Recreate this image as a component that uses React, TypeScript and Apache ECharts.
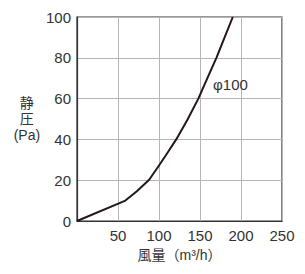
import React, { useEffect, useRef } from "react";
import * as echarts from "echarts";

const airflow = [0, 59, 73, 88, 100, 110, 121, 134.5, 148, 159, 170, 180, 190];
const pressure = [0, 10, 14.6, 20.2, 27.2, 33.2, 40, 49.5, 60, 70, 80, 90, 100];
const curveLabel = "φ100";
const xName = "風量（m³/h）";
const yName = "静\n圧\n(Pa)";

export default function App() {
  const ref = useRef<HTMLDivElement>(null);
  useEffect(() => {
    if (!ref.current) return;
    const chart = echarts.init(ref.current, undefined, { renderer: "svg" });
    const font = "'Liberation Sans', 'Noto Sans CJK JP', sans-serif";
    chart.setOption({
      animation: false,
      backgroundColor: "#fff",
      grid: {
        left: 77,
        top: 17,
        right: 23,
        bottom: 53,
        show: true,
        borderColor: "#333",
        borderWidth: 1.2,
      },
      xAxis: {
        type: "value",
        min: 0,
        max: 250,
        interval: 50,
        name: xName,
        nameLocation: "middle",
        nameGap: 27,
        nameTextStyle: { fontFamily: font, fontSize: 14, color: "#333" },
        axisLine: { lineStyle: { color: "#333", width: 1.2 } },
        axisTick: { show: false },
        axisLabel: {
          fontFamily: font,
          fontSize: 15,
          color: "#333",
          margin: 7,
          formatter: (v: number) => (v === 0 ? "" : String(v)),
        },
        splitLine: { show: true, lineStyle: { color: "#b5b5b5", width: 1 } },
      },
      yAxis: {
        type: "value",
        min: 0,
        max: 100,
        interval: 20,
        name: yName,
        nameLocation: "middle",
        nameRotate: 0,
        nameGap: 43,
        nameTextStyle: { fontFamily: font, fontSize: 14, color: "#333", lineHeight: 16, align: "center" },
        axisLine: { show: true, lineStyle: { color: "#333", width: 1.2 } },
        axisTick: { show: false },
        axisLabel: { fontFamily: font, fontSize: 15, color: "#333", margin: 6 },
        splitLine: { show: true, lineStyle: { color: "#b5b5b5", width: 1 } },
      },
      series: [
        {
          type: "line",
          data: airflow.map((x, i) => [x, pressure[i]]),
          symbol: "none",
          smooth: false,
          lineStyle: { color: "#231815", width: 2, join: "round" },
          markPoint: {
            symbol: "circle",
            symbolSize: 0,
            data: [{ coord: [166, 67], value: curveLabel }],
            label: {
              show: true,
              position: "right",
              formatter: curveLabel,
              fontFamily: font,
              fontSize: 15,
              color: "#333",
              distance: 0,
            },
          },
        },
      ],
    });
    return () => chart.dispose();
  }, []);
  return (
    <div
      ref={ref}
      style={{ position: "fixed", left: 0, top: 0, width: 305, height: 274 }}
    />
  );
}
